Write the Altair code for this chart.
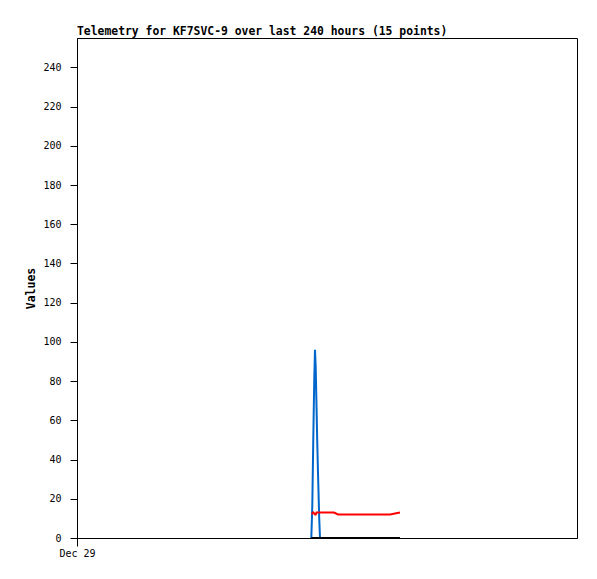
import altair as alt
import pandas as pd

times = [
    "2024-01-02T16:28:00", "2024-01-02T16:56:00", "2024-01-02T17:23:00",
    "2024-01-02T17:52:00", "2024-01-02T18:14:00", "2024-01-02T18:35:00",
    "2024-01-02T18:58:00", "2024-01-02T19:20:00", "2024-01-02T19:47:00",
    "2024-01-02T20:16:00", "2024-01-02T20:38:00", "2024-01-03T03:22:00",
    "2024-01-03T05:17:00", "2024-01-04T06:14:00", "2024-01-04T11:02:00",
]
blue_vals = [0, 16, 48, 80, 96, 87, 67, 48, 29, 10, 0, 0, 0, 0, 0]
red_vals = [12.5, 12.5, 13, 12.5, 12, 12, 13, 13, 13, 13, 13, 13, 12, 12, 13]
black_vals = [0, 0, 0, 0, 0, 0, 0, 0, 0, 0, 0, 0, 0, 0, 0]
y_ticks = [0, 20, 40, 60, 80, 100, 120, 140, 160, 180, 200, 220, 240]

df = pd.DataFrame({"time": times, "blue": blue_vals, "red": red_vals, "black": black_vals})

FONT = "DejaVu Sans Mono"

x_enc = alt.X(
    "time:T",
    scale=alt.Scale(domain=[alt.DateTime(year=2023, month=12, date=29),
                            alt.DateTime(year=2024, month=1, date=8)]),
    axis=alt.Axis(
        values=[alt.DateTime(year=2023, month=12, date=29)],
        format="%b %d", title=None, grid=False,
        tickSize=8, tickColor="black", domainColor="black",
        labelFont=FONT, labelFontSize=10, labelColor="black",
        labelPadding=2, labelAlign="center", labelFlush=False,
    ),
)

def y_enc(field):
    return alt.Y(
        f"{field}:Q",
        scale=alt.Scale(domain=[0, 255], nice=False),
        axis=alt.Axis(
            values=y_ticks, title="Values", grid=False,
            tickSize=7, tickColor="black", domainColor="black",
            labelFont=FONT, labelFontSize=10, labelColor="black",
            labelPadding=9,
            titleFont=FONT, titleFontSize=11.5, titleFontWeight="bold",
            titleColor="black", titlePadding=6,
        ),
    )

base = alt.Chart(df)
blue = base.mark_line(color="#0066cc", strokeWidth=2).encode(x=x_enc, y=y_enc("blue"))
red = base.mark_line(color="#ff0000", strokeWidth=2).encode(x=x_enc, y=y_enc("red"))
black = base.mark_line(color="#000000", strokeWidth=2).encode(x=x_enc, y=y_enc("black"))

chart = alt.layer(blue, red, black).properties(
    width=500, height=500,
    title=alt.TitleParams(
        "Telemetry for KF7SVC-9 over last 240 hours (15 points)",
        anchor="start", frame="group", font=FONT, fontSize=11.4,
        fontWeight="bold", color="black", offset=1,
    ),
    autosize=alt.AutoSizeParams(type="none"),
    padding={"left": 69, "top": 30, "right": 12, "bottom": 33},
    background="white",
).configure_view(stroke="black", strokeWidth=1)

chart.save("out.html", embed_options={"renderer": "svg", "actions": False})
